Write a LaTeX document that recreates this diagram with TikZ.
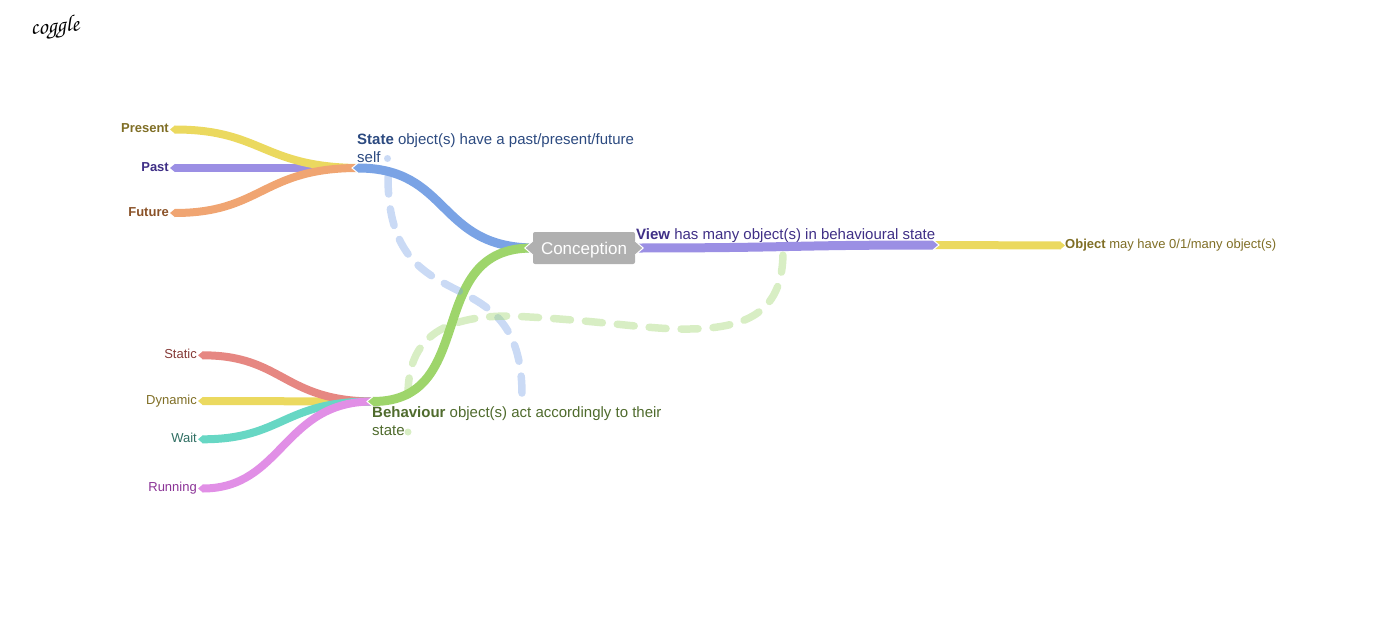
\documentclass[tikz,border=0pt]{standalone}
\usepackage[T1,TU]{fontenc}
\usepackage{fontspec}
\setmainfont{Liberation Sans}
\usetikzlibrary{arrows.meta}
\definecolor{ribyellow}{HTML}{EBD95F}
\definecolor{ribpurple}{HTML}{9B8FE4}
\definecolor{riborange}{HTML}{F0A572}
\definecolor{ribblue}{HTML}{7AA3E5}
\definecolor{ribgreen}{HTML}{9ED56B}
\definecolor{ribred}{HTML}{E68782}
\definecolor{ribteal}{HTML}{67D7C4}
\definecolor{ribpink}{HTML}{E18FE6}
\definecolor{txtyellow}{HTML}{7F6E25}
\definecolor{txtpurple}{HTML}{3F2F86}
\definecolor{txtorange}{HTML}{8A5228}
\definecolor{txtblue}{HTML}{2C4A80}
\definecolor{txtgreen}{HTML}{4F6B2D}
\definecolor{txtred}{HTML}{853A37}
\definecolor{txtteal}{HTML}{2F6E62}
\definecolor{txtpink}{HTML}{8A3296}
\tikzset{
	leaf/.style={inner ysep=0pt,inner xsep=1pt,anchor=east,text height=11pt,text depth=5pt,font=\fontsize{13}{15}\selectfont},
	branch/.style={inner sep=0pt,anchor=north west,align=left,font=\fontsize{15}{18}\selectfont},
	ribbon/.style={line width=8pt},
	pointed/.style={{Triangle[length=5pt,width=8pt]}-},
	linked/.style={dash pattern=on 17pt off 15pt,line width=7.5pt,line cap=round,opacity=.4},
	linkdot/.style={circle,inner sep=0pt,minimum size=7pt,opacity=.4},
	tab/.style={fill=#1,draw=white,line width=1pt,line join=miter}
}
\begin{document}
\begin{tikzpicture}[x=1pt,y=-1pt]
	\useasboundingbox (0,0) rectangle (1397,618);
	% logo
	\node (logo) at (55,28)[rotate=5,inner sep=0pt,font=\fontsize{23}{23}\usefont{T1}{pzc}{mb}{it}]{coggle};
	% centre
	\node (conception) at (584,248)[fill=black!31,rounded corners=2pt,minimum width=102pt,minimum height=32pt,inner sep=0pt,text height=15pt,text depth=2pt,text=white,font=\fontsize{17}{20}\selectfont]{Conception};
	% labels
	\node (state) at (357,133.5)[branch,text=txtblue]{\textbf{State} object(s) have a past/present/future\\self};
	\node (view) at (636,228.5)[branch,text=txtpurple]{\textbf{View} has many object(s) in behavioural state};
	\node (behaviour) at (372,406.5)[branch,text=txtgreen]{\textbf{Behaviour} object(s) act accordingly to their\\state};
	\node (present) at (170,129.5)[leaf,text=txtyellow]{\textbf{Present}};
	\node (past) at (170,168)[leaf,text=txtpurple]{\textbf{Past}};
	\node (future) at (170,213)[leaf,text=txtorange]{\textbf{Future}};
	\node (static) at (198,355.3)[leaf,text=txtred]{Static};
	\node (dynamic) at (198,401)[leaf,text=txtyellow]{Dynamic};
	\node (wait) at (198,439.3)[leaf,text=txtteal]{Wait};
	\node (running) at (198,488.5)[leaf,text=txtpink]{Running};
	\node (object) at (1065,245.5)[inner sep=0pt,anchor=west,text height=11pt,text depth=5pt,text=txtyellow,font=\fontsize{13}{15}\selectfont]{\textbf{Object} may have 0/1/many object(s)};
	% joins
	\coordinate (statejoin) at (358,168);
	\coordinate (behaviourjoin) at (373,401.5);
	\coordinate (viewjoin) at (933,245);
	% state side
	\draw[ribbon,pointed,ribpurple] (past.east) -- (statejoin);
	\draw[ribbon,pointed,ribyellow] (present.east) .. controls (262,129.5) and (262,167) .. (statejoin);
	\draw[ribbon,pointed,riborange] (future.east) .. controls (262,213) and (262,168) .. (statejoin);
	% behaviour side
	\draw[ribbon,pointed,ribyellow] (dynamic.east) -- (behaviourjoin);
	\draw[ribbon,pointed,ribred] (static.east) .. controls (283,355.3) and (283,401) .. (behaviourjoin);
	\draw[ribbon,pointed,ribteal] (wait.east) .. controls (283,439.3) and (283,401) .. (behaviourjoin);
	\draw[ribbon,pointed,ribpink] (running.east) .. controls (283,488.5) and (283,401) .. (behaviourjoin);
	% main branches
	\draw[line width=9pt,ribblue] (statejoin) .. controls (450,168) and (437,247) .. (conception.west);
	\draw[line width=9pt,ribgreen] (behaviourjoin) .. controls (480,401.5) and (422,247) .. (conception.west);
	\draw[ribbon,-{Triangle[length=5pt,width=8pt]},ribyellow] (viewjoin) -- (object.west);
	\draw[line width=9pt,ribpurple] (conception.east) .. controls (790,248) and (790,245) .. (viewjoin);
	% tips of the branches
	\draw[tab=ribblue] ([yshift=-5pt]statejoin) -- ([xshift=-6pt]statejoin) -- ([yshift=5pt]statejoin);
	\draw[tab=ribgreen] ([yshift=-5pt]behaviourjoin) -- ([xshift=-6pt]behaviourjoin) -- ([yshift=5pt]behaviourjoin);
	\draw[tab=ribpurple] ([yshift=-5pt]viewjoin) -- ([xshift=6pt]viewjoin) -- ([yshift=5pt]viewjoin);
	% tabs on the centre box
	\draw[tab=black!31] ([yshift=-7pt]conception.west) -- ([xshift=-8pt]conception.west) -- ([yshift=7pt]conception.west);
	\draw[tab=black!31] ([yshift=-7pt]conception.east) -- ([xshift=8pt]conception.east) -- ([yshift=7pt]conception.east);
	% cross links
	\node (statedot) at (387.5,158.5)[linkdot,fill=ribblue]{};
	\node (behaviourdot) at (408,432)[linkdot,fill=ribgreen]{};
	\coordinate (statelink) at (388,177);
	\coordinate (behaviourlink) at (408,395);
	\coordinate (viewlink) at (783,252);
	\coordinate (behaviourend) at (522,395);
	\draw[linked,ribblue] (statelink) .. controls (388,330) and (522,250) .. (behaviourend);
	\draw[linked,ribgreen] (behaviourlink) .. controls (408,340) and (440,316) .. (510,316) .. controls (600,320) and (650,330) .. (690,329) .. controls (750,328) and (783,310) .. (viewlink);
\end{tikzpicture}
\end{document}
